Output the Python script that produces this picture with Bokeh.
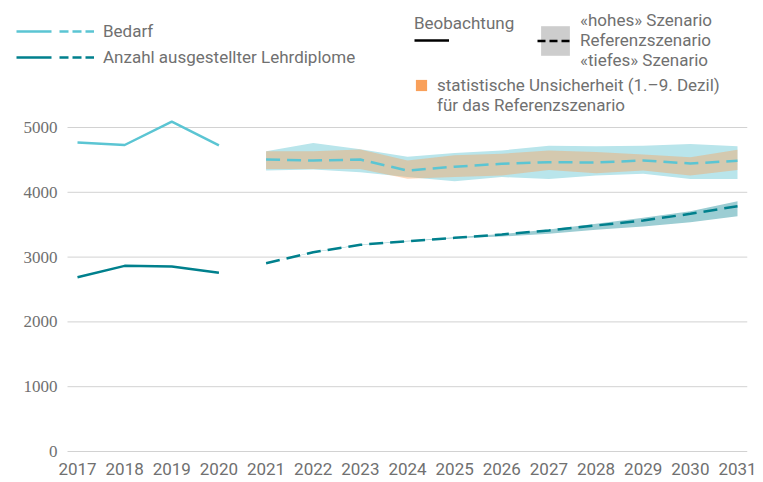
from bokeh.plotting import figure
from bokeh.models import Legend, LegendItem, FixedTicker, Range1d, LabelSet, ColumnDataSource
from bokeh.embed import file_html
from bokeh.resources import INLINE

# ---- data ----
years_obs = [2017, 2018, 2019, 2020]
bedarf_obs = [4770, 4730, 5090, 4725]
diplome_obs = [2690, 2865, 2855, 2760]

years_proj = [2021, 2022, 2023, 2024, 2025, 2026, 2027, 2028, 2029, 2030, 2031]
bedarf_ref = [4505, 4490, 4505, 4335, 4395, 4440, 4465, 4460, 4490, 4445, 4485]
bedarf_high = [4635, 4760, 4665, 4550, 4605, 4645, 4720, 4710, 4720, 4745, 4710]
bedarf_low = [4335, 4350, 4310, 4235, 4170, 4235, 4205, 4260, 4285, 4205, 4205]
bedarf_p90 = [4635, 4635, 4660, 4490, 4570, 4595, 4645, 4620, 4585, 4540, 4655]
bedarf_p10 = [4360, 4360, 4360, 4210, 4235, 4260, 4345, 4295, 4335, 4260, 4345]

diplome_ref = [2905, 3075, 3190, 3245, 3297, 3350, 3410, 3488, 3565, 3668, 3786]
diplome_high = [2905, 3078, 3195, 3252, 3305, 3355, 3426, 3513, 3606, 3709, 3863]
diplome_low = [2905, 3072, 3185, 3240, 3290, 3318, 3359, 3421, 3472, 3539, 3632]

x_ticks = list(range(2017, 2032))
y_ticks = [0, 1000, 2000, 3000, 4000, 5000]
y_tick_labels = [str(v) for v in y_ticks]

# ---- styles ----
C_BEDARF = "#5bc5d3"
C_BEDARF_BAND = "#b9e5eb"
C_DIPL = "#00808d"
C_DIPL_BAND = "#9ccdd3"
C_ORANGE = "#f9a05a"
C_TEXT = "#707070"
C_GRID = "#d2d2d2"
FONT = "Roboto"
FS = "17px"
DASH = "14 7"
LW = 2.5

X_START, X_END = 2015.3667, 2031.2121
GRID_X0 = 2016.788  # left end of the horizontal grid lines

p = figure(width=763, height=482, output_backend="svg", toolbar_location=None,
           x_range=Range1d(X_START, X_END), y_range=Range1d(-170, 6960),
           min_border_left=0, min_border_right=16, min_border_top=0,
           min_border_bottom=20)
p.outline_line_color = None
p.background_fill_color = "white"
p.border_fill_color = "white"
p.xgrid.visible = False
p.ygrid.visible = False
p.yaxis.visible = False

xa = p.xaxis[0]
xa.axis_line_color = None
xa.major_tick_line_color = None
xa.minor_tick_line_color = None
xa.major_tick_in = 0
xa.major_tick_out = 0
xa.minor_tick_out = 0
xa.major_label_text_font = FONT
xa.major_label_text_font_size = FS
xa.major_label_text_color = C_TEXT
xa.ticker = FixedTicker(ticks=x_ticks)
xa.major_label_standoff = 0

# horizontal grid lines at the y ticks, starting right of the value labels
p.segment(x0=[GRID_X0] * len(y_ticks), x1=[X_END] * len(y_ticks), y0=y_ticks, y1=y_ticks,
          line_color=C_GRID, line_width=1)

# y tick labels
ysrc = ColumnDataSource(dict(y=y_ticks, text=y_tick_labels))
p.add_layout(LabelSet(x=57, x_units="screen", y="y", text="text", source=ysrc,
                      text_align="right", text_baseline="middle",
                      text_font=FONT, text_font_size=FS, text_color=C_TEXT))

# ---- bands ----
p.varea(x=years_proj, y1=bedarf_low, y2=bedarf_high, fill_color=C_BEDARF_BAND)
p.varea(x=years_proj, y1=bedarf_p10, y2=bedarf_p90, fill_color=C_ORANGE, fill_alpha=0.41)
p.varea(x=years_proj, y1=diplome_low, y2=diplome_high, fill_color=C_DIPL_BAND)

# ---- lines ----
p.line(years_obs, bedarf_obs, line_color=C_BEDARF, line_width=LW, line_join="round")
p.line(years_proj, bedarf_ref, line_color=C_BEDARF, line_width=LW, line_dash=DASH)
p.line(years_obs, diplome_obs, line_color=C_DIPL, line_width=LW, line_join="round")
p.line(years_proj, diplome_ref, line_color=C_DIPL, line_width=LW, line_dash=DASH)

# ---- legend-only renderers (a single degenerate point, draws nothing in the plot) ----
LEG_DASH = "35 8 9 4 9 4 9 200"
dx, dy = [2017], [0]
r_leg_bedarf = p.line(x=dx, y=dy, line_color=C_BEDARF, line_width=LW, line_dash=LEG_DASH)
r_leg_dipl = p.line(x=dx, y=dy, line_color=C_DIPL, line_width=LW, line_dash=LEG_DASH)
r_leg_obs = p.line(x=dx, y=dy, line_color="black", line_width=2.5)
r_leg_box = p.varea(x=dx, y1=dy, y2=dy, fill_color="#cdcdcd")
r_leg_dash = p.line(x=dx, y=dy, line_color="black", line_width=2.5, line_dash="8 4")
r_leg_orange = p.varea(x=dx, y1=dy, y2=dy, fill_color=C_ORANGE)
r_leg_none = p.line(x=dx, y=dy, line_alpha=0)


def style(leg):
    leg.border_line_color = None
    leg.background_fill_alpha = 0
    leg.padding = 0
    leg.margin = 0
    leg.label_text_font = FONT
    leg.label_text_font_size = FS
    leg.label_text_color = C_TEXT
    leg.title_text_font = FONT
    leg.title_text_font_size = FS
    leg.title_text_color = C_TEXT
    leg.title_text_font_style = "normal"
    return leg


leg1 = style(Legend(items=[LegendItem(label="Bedarf", renderers=[r_leg_bedarf]),
                           LegendItem(label="Anzahl ausgestellter Lehrdiplome", renderers=[r_leg_dipl])],
                    location=(16, 395)))
leg1.glyph_width = 78
leg1.glyph_height = 20
leg1.label_height = 20
leg1.spacing = 6
leg1.label_standoff = 9

leg2 = style(Legend(items=[LegendItem(label=" ", renderers=[r_leg_obs])],
                    title="Beobachtung", location=(414, 415)))
leg2.glyph_width = 35
leg2.glyph_height = 14
leg2.label_height = 14
leg2.title_standoff = 0

leg3 = style(Legend(items=[LegendItem(label="«hohes» Szenario\nReferenzszenario\n«tiefes» Szenario",
                                      renderers=[r_leg_box, r_leg_dash])],
                    location=(537, 392)))
leg3.glyph_width = 36
leg3.glyph_height = 37
leg3.label_standoff = 7
leg3.label_text_line_height = 0.9

leg4 = style(Legend(items=[LegendItem(label="statistische Unsicherheit (1.–9. Dezil)",
                                      renderers=[r_leg_orange]),
                           LegendItem(label="für das Referenzszenario", renderers=[r_leg_none])],
                    location=(414, 347)))
leg4.glyph_width = 14
leg4.glyph_height = 14
leg4.label_height = 19
leg4.spacing = 0
leg4.label_standoff = 9

for lg in (leg1, leg2, leg3, leg4):
    p.add_layout(lg)

open("out.html", "w").write(file_html(p, INLINE))
